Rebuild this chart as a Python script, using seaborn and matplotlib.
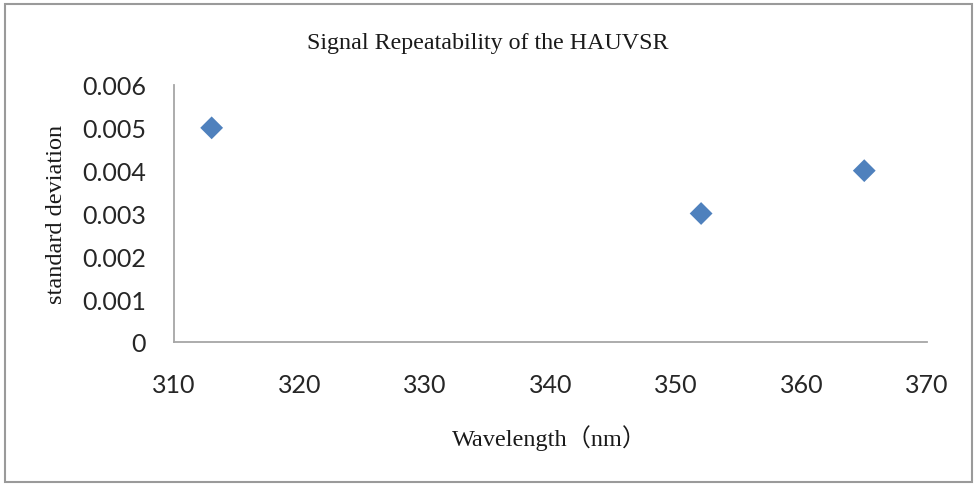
import matplotlib
matplotlib.use("Agg")
import matplotlib.pyplot as plt
import seaborn as sns
import pandas as pd
from matplotlib.patches import Rectangle

wavelength = [313, 352, 365]
std_dev = [0.005, 0.003, 0.004]
x_ticks = [310, 320, 330, 340, 350, 360, 370]
y_ticks = [0, 0.001, 0.002, 0.003, 0.004, 0.005, 0.006]
y_tick_labels = ["0", "0.001", "0.002", "0.003", "0.004", "0.005", "0.006"]

df = pd.DataFrame({"Wavelength": wavelength, "std": std_dev})

sns.set_style("white")
plt.rcParams['font.family'] = ['Lato', 'DejaVu Sans']

fig = plt.figure(figsize=(9.74, 4.85), dpi=100)
ax = fig.add_axes([174/974, 1-343/485, (927-174)/974, (343-86)/485])

sns.scatterplot(data=df, x="Wavelength", y="std", marker="D", s=135,
                color="#4F81BD", edgecolor="none", ax=ax, legend=False)

ax.set_xlim(310, 370)
ax.set_ylim(0, 0.006)
ax.set_xticks(x_ticks)
ax.set_xticklabels([str(v) for v in x_ticks])
ax.set_yticks(y_ticks)
ax.set_yticklabels(y_tick_labels)
ax.tick_params(axis='both', length=0, labelsize=18, colors="#262626")
ax.tick_params(axis='x', pad=22)
ax.tick_params(axis='y', pad=20)

for side in ["top", "right"]:
    ax.spines[side].set_visible(False)
for side in ["left", "bottom"]:
    ax.spines[side].set_color("#A6A6A6")
    ax.spines[side].set_linewidth(1.3)

ax.set_xlabel("")
ax.set_ylabel("")

serif = ['Liberation Serif', 'Noto Sans CJK SC', 'DejaVu Serif']
fig.text(488/974, 1-43/485, "Signal Repeatability of the HAUVSR", ha="center", va="center",
         fontsize=17.3, family=serif, color="#1a1a1a")
fig.text(57/974, 1-214/485, "standard deviation", ha="center", va="center", rotation=90,
         fontsize=17.5, family=serif, color="#1a1a1a")
fig.text(550/974, 1-438/485, "Wavelength（nm）", ha="center", va="center",
         fontsize=17.5, family=serif, color="#1a1a1a")

fig.patches.append(Rectangle((5/974, 2/485), 967/974, 478/485, transform=fig.transFigure,
                             fill=False, edgecolor="#9a9a9a", linewidth=1.5))

fig.savefig("out.png", dpi=100, facecolor="white")
